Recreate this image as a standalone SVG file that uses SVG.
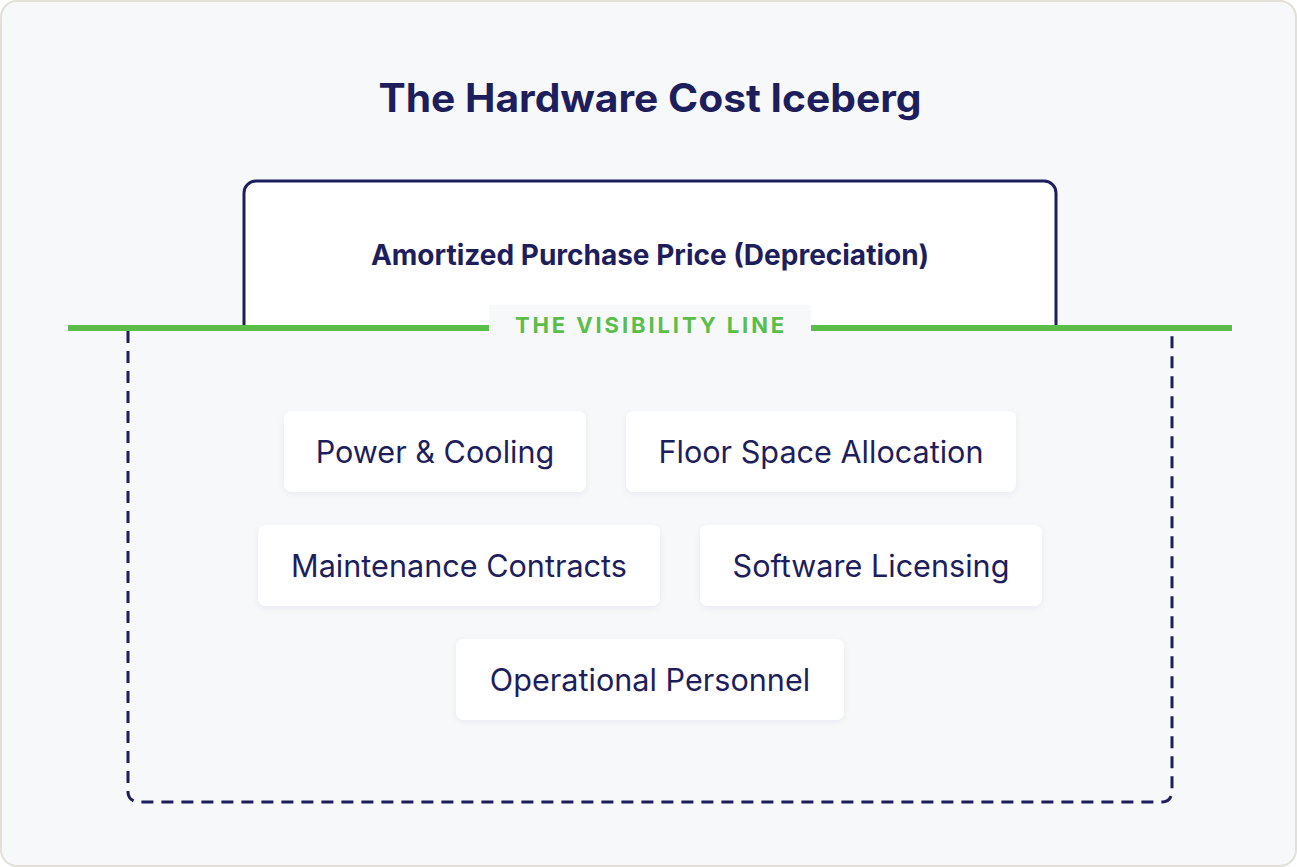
<svg xmlns="http://www.w3.org/2000/svg" width="1297" height="867" viewBox="0 0 1297 867">
  <defs>
    <filter id="soft" x="-10%" y="-20%" width="120%" height="150%">
      <feDropShadow dx="0" dy="2" stdDeviation="3" flood-color="#1e1e5c" flood-opacity="0.06"/>
    </filter>
    <style>
      .frame { fill: #f7f8fa; stroke: #e3e0d8; stroke-width: 2; }
      .title { font-family: Inter, "Liberation Sans", sans-serif; font-weight: 700; font-size: 39px; fill: #1e1e5c; }
      .tip { fill: #ffffff; stroke: #1e1e5c; stroke-width: 3; }
      .tip-text { font-family: Inter, "Liberation Sans", sans-serif; font-weight: 700; font-size: 28px; fill: #1e1e5c; }
      .hidden-zone { fill: none; stroke: #1e1e5c; stroke-width: 3; stroke-dasharray: 12 8; }
      .waterline { stroke: #5bbd4a; stroke-width: 6; }
      .wl-text { font-family: Inter, "Liberation Sans", sans-serif; font-weight: 700; font-size: 22px; letter-spacing: 2.9px; fill: #5bbd4a; }
      .card { fill: #ffffff; filter: url(#soft); }
      .card-text { font-family: Inter, "Liberation Sans", sans-serif; font-weight: 400; font-size: 30.6px; fill: #1e1e5c; }
    </style>
  </defs>

  <!-- backdrop panel -->
  <rect class="frame" x="1" y="1" width="1295" height="865" rx="16"/>

  <text class="title" x="650" y="112" text-anchor="middle" textLength="543" lengthAdjust="spacingAndGlyphs">The Hardware Cost Iceberg</text>

  <!-- visible tip above the line -->
  <g id="visible-tip">
    <path class="tip" d="M244 328 V193 A12 12 0 0 1 256 181 H1044 A12 12 0 0 1 1056 193 V328"/>
    <text class="tip-text" x="650" y="265" text-anchor="middle">Amortized Purchase Price (Depreciation)</text>
  </g>

  <!-- submerged region outline -->
  <g id="submerged">
    <path class="hidden-zone" d="M128 331 V792 A10 10 0 0 0 138 802 H1162 A10 10 0 0 0 1172 792 V331"/>
  </g>

  <!-- visibility line with label -->
  <g id="visibility-line">
    <line class="waterline" x1="68" y1="328" x2="1232" y2="328"/>
    <rect x="489" y="305" width="322" height="40" fill="#f7f8fa"/>
    <text class="wl-text" x="651" y="333" text-anchor="middle">THE VISIBILITY LINE</text>
  </g>

  <g id="power-cooling">
    <rect class="card" x="284" y="411" width="302" height="81" rx="8"/>
    <text class="card-text" x="435" y="463" text-anchor="middle">Power &amp; Cooling</text>
  </g>
  <g id="floor-space">
    <rect class="card" x="626" y="411" width="390" height="81" rx="8"/>
    <text class="card-text" x="821" y="463" text-anchor="middle">Floor Space Allocation</text>
  </g>
  <g id="maintenance">
    <rect class="card" x="258" y="525" width="402" height="81" rx="8"/>
    <text class="card-text" x="459" y="577" text-anchor="middle">Maintenance Contracts</text>
  </g>
  <g id="software">
    <rect class="card" x="700" y="525" width="342" height="81" rx="8"/>
    <text class="card-text" x="871" y="577" text-anchor="middle">Software Licensing</text>
  </g>
  <g id="personnel">
    <rect class="card" x="456" y="639" width="388" height="81" rx="8"/>
    <text class="card-text" x="650" y="691" text-anchor="middle">Operational Personnel</text>
  </g>

  <g id="connectors"></g>
</svg>
